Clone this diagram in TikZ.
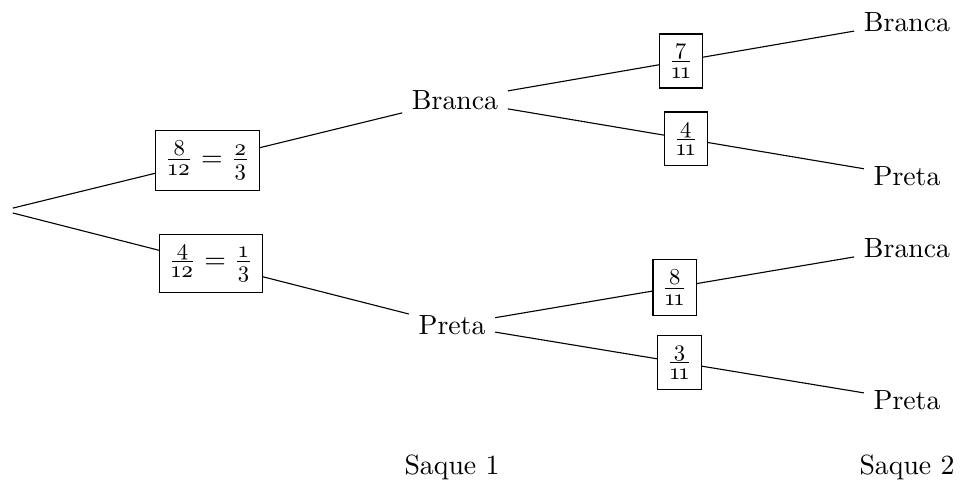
\documentclass[tikz,border=0pt]{standalone}
\usepackage{amsmath}
\usepackage{fontspec}
\setmainfont{lmroman10-regular.otf}
\newfontfamily\osfam{lmroman10-regular.otf}[Numbers=OldStyle]
\newcommand\fd[1]{\text{\osfam\fontsize{8.2}{9}\selectfont #1}}
\newcommand\fr[2]{\frac{\fd{#1}}{\fd{#2}}}
\tikzset{
  lbl/.style={draw, fill=white, inner xsep=3.3pt, inner ysep=3.6pt},
  st/.style={inner sep=3.3pt}
}
\begin{document}
\begin{tikzpicture}[x=0.36pt,y=-0.36pt]
\useasboundingbox (0,0) rectangle (962,489);
\node[st] (r) at (3,210.5) {};
\node[st] (b1) at (455,100) {Branca};
\node[st] (p1) at (452,325) {Preta};
\node[st] (b2) at (907,22) {Branca};
\node[st] (p2) at (907,176) {Preta};
\node[st] (b3) at (907,248) {Branca};
\node[st] (p3) at (907,400) {Preta};
\node[st] (s1) at (452,467) {Saque 1};
\node[st] (s2) at (907,467) {Saque 2};
\draw (r) -- node[lbl] (l1) {$\fr{8}{12}=\fr{2}{3}$} (b1);
\draw (r) -- node[lbl] (l2) {$\fr{4}{12}=\fr{1}{3}$} (p1);
\draw (b1) -- node[lbl] (l3) {$\fr{7}{11}$} (b2);
\draw (b1) -- node[lbl] (l4) {$\fr{4}{11}$} (p2);
\draw (p1) -- node[lbl] (l5) {$\fr{8}{11}$} (b3);
\draw (p1) -- node[lbl] (l6) {$\fr{3}{11}$} (p3);
\end{tikzpicture}
\end{document}
